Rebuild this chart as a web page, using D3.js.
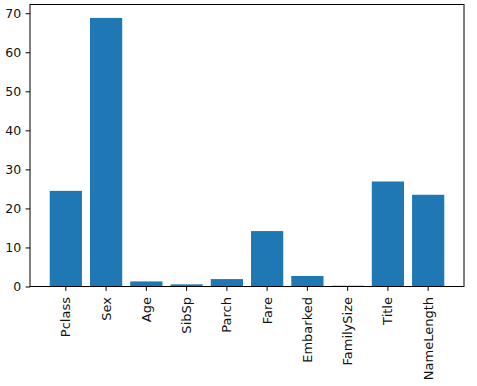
<!DOCTYPE html>
<html>
<head>
<meta charset="utf-8">
<script src="https://cdn.jsdelivr.net/npm/d3@7"></script>
<style>
  body { margin: 0; background: #fff; }
  text { font-family: "DejaVu Sans", sans-serif; fill: #111; }
</style>
</head>
<body>
<div id="chart"></div>
<script>
// Feature importances
const features = ["Pclass", "Sex", "Age", "SibSp", "Parch", "Fare", "Embarked", "FamilySize", "Title", "NameLength"];
const importance = [24.5, 68.8, 1.3, 0.55, 1.9, 14.2, 2.7, 0.2, 26.9, 23.5];
const yTicks = [0, 10, 20, 30, 40, 50, 60, 70];

const W = 477, H = 386;
const margin = { top: 4.5, right: 13, bottom: 99.5, left: 30 };
const width = W - margin.left - margin.right,
      height = H - margin.top - margin.bottom;

const svg = d3.select("#chart")
    .append("svg")
    .attr("width", W)
    .attr("height", H)
    .append("g")
    .attr("transform", `translate(${margin.left},${margin.top})`);

// X scale (bar width 0.8, matplotlib-like 5% margins)
const x = d3.scaleBand()
    .domain(features)
    .range([0, width])
    .paddingInner(0.2)
    .paddingOuter(0.49);

// Y scale
const ymax = d3.max(importance) * 1.05;
const y = d3.scaleLinear()
    .domain([0, ymax])
    .range([height, 0]);

// Bars
svg.selectAll("rect.bar")
    .data(features)
    .enter()
    .append("rect")
    .attr("class", "bar")
    .attr("x", d => x(d))
    .attr("width", x.bandwidth())
    .attr("y", (d, i) => y(importance[i]))
    .attr("height", (d, i) => height - y(importance[i]))
    .attr("fill", "#1f77b4");

// Y axis
const yAxis = svg.append("g")
    .call(d3.axisLeft(y).tickValues(yTicks).tickSize(4.4).tickPadding(4.4));
yAxis.select(".domain").remove();
yAxis.selectAll("line").attr("stroke", "#000");
yAxis.selectAll("text")
    .style("font-size", "12.5px")
    .style("font-family", "DejaVu Sans");

// X axis
const xAxis = svg.append("g")
    .attr("transform", `translate(0,${height})`)
    .call(d3.axisBottom(x).tickSize(4.4).tickPadding(4.4));
xAxis.select(".domain").remove();
xAxis.selectAll("line").attr("stroke", "#000");
xAxis.selectAll("text")
    .style("font-size", "13px")
    .style("font-family", "DejaVu Sans")
    .attr("text-anchor", "end")
    .attr("dy", "0.35em")
    .attr("transform", "translate(0,10.5) rotate(-90)")
    .attr("x", 0)
    .attr("y", 0);

// Frame
svg.append("rect")
    .attr("width", width)
    .attr("height", height)
    .attr("fill", "none")
    .attr("stroke", "#000")
    .attr("stroke-width", 1);
</script>
</body>
</html>
